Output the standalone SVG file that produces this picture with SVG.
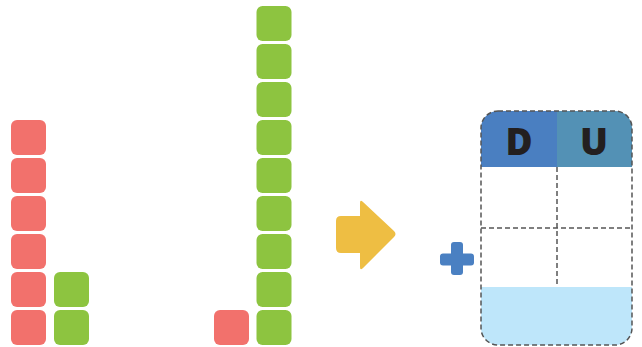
<svg xmlns="http://www.w3.org/2000/svg" width="642" height="347" viewBox="0 0 642 347">
<defs>
<style>
.r{fill:#F2716C}
.g{fill:#8DC440}
.dash{fill:none;stroke:#555;stroke-width:1.5;stroke-dasharray:5 3}
.lbl{font-family:"Open Sans","Liberation Sans",sans-serif;font-weight:800;font-size:37px;fill:#231F20;text-anchor:middle}
</style>
<clipPath id="tc"><rect x="481" y="111" width="151" height="234" rx="17"/></clipPath>
</defs>
<g id="red-column">
<rect class="r" x="11" y="120" width="35" height="35" rx="6"/>
<rect class="r" x="11" y="158" width="35" height="35" rx="6"/>
<rect class="r" x="11" y="196" width="35" height="35" rx="6"/>
<rect class="r" x="11" y="234" width="35" height="35" rx="6"/>
<rect class="r" x="11" y="272" width="35" height="35" rx="6"/>
<rect class="r" x="11" y="310" width="35" height="35" rx="6"/>
</g>
<g id="green-short">
<rect class="g" x="54" y="272" width="35" height="35" rx="6"/>
<rect class="g" x="54" y="310" width="35" height="35" rx="6"/>
</g>
<g id="red-single">
<rect class="r" x="214" y="310" width="35" height="35" rx="6"/>
</g>
<g id="green-tall">
<rect class="g" x="256.5" y="6" width="35" height="35" rx="6"/>
<rect class="g" x="256.5" y="44" width="35" height="35" rx="6"/>
<rect class="g" x="256.5" y="82" width="35" height="35" rx="6"/>
<rect class="g" x="256.5" y="120" width="35" height="35" rx="6"/>
<rect class="g" x="256.5" y="158" width="35" height="35" rx="6"/>
<rect class="g" x="256.5" y="196" width="35" height="35" rx="6"/>
<rect class="g" x="256.5" y="234" width="35" height="35" rx="6"/>
<rect class="g" x="256.5" y="272" width="35" height="35" rx="6"/>
<rect class="g" x="256.5" y="310" width="35" height="35" rx="6"/>
</g>
<g id="arrow">
<path d="M341 216 L360 216 L360 203 Q360 199 363 202 L394 231 Q397 234 394 237 L363 268 Q360 271 360 267 L360 253 L341 253 Q336 253 336 248 L336 221 Q336 216 341 216 Z" fill="#EEBE43"/>
</g>
<g id="plus">
<rect x="440" y="253.5" width="34" height="12" rx="3" fill="#4A80C2"/>
<rect x="451" y="242" width="12" height="33" rx="3" fill="#4A80C2"/>
</g>
<g id="table">
<g clip-path="url(#tc)">
<rect x="481" y="111" width="76" height="56" fill="#4A7FC1"/>
<rect x="557" y="111" width="75" height="56" fill="#5391B5"/>
<rect x="481" y="287" width="151" height="58" fill="#BEE6FA"/>
</g>
<rect class="dash" x="481" y="111" width="151" height="234" rx="17"/>
<line class="dash" x1="481" y1="228" x2="632" y2="228"/>
<line class="dash" x1="557" y1="167" x2="557" y2="287"/>
<text class="lbl" x="519" y="155">D</text>
<text class="lbl" x="594" y="155">U</text>
</g>
</svg>
